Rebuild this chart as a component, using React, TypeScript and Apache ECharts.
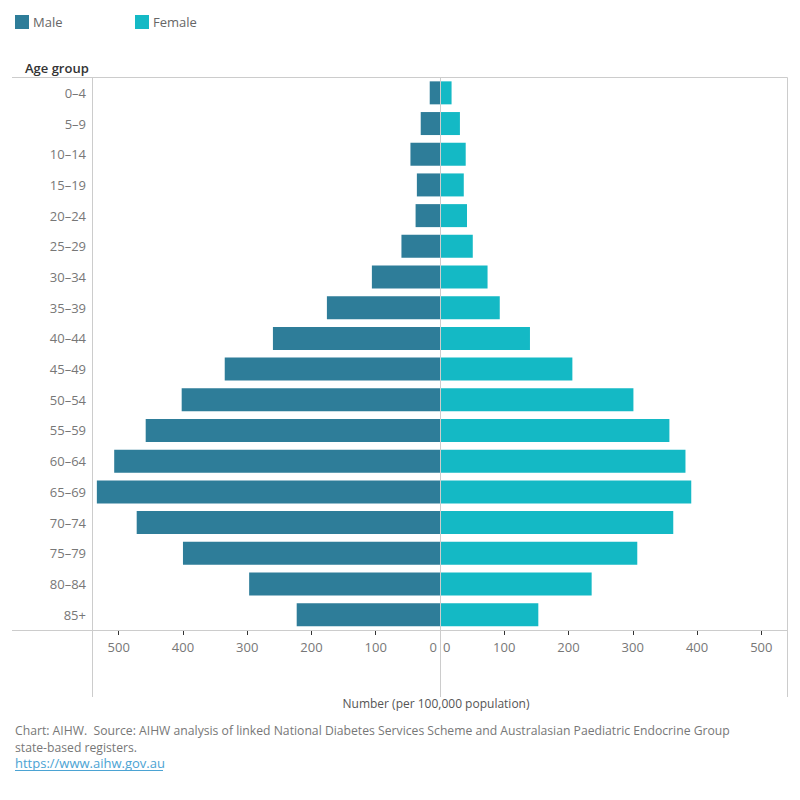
import React, { useEffect, useRef } from "react";
import * as echarts from "echarts";

const ageGroups = ["0–4", "5–9", "10–14", "15–19", "20–24", "25–29", "30–34", "35–39", "40–44", "45–49", "50–54", "55–59", "60–64", "65–69", "70–74", "75–79", "80–84", "85+"];
const maleValues = [16, 30, 46, 36, 38, 60, 106, 176, 260, 335, 402, 458, 507, 534, 472, 400, 297, 223];
const femaleValues = [18, 31, 40, 37, 42, 51, 74, 93, 140, 206, 301, 357, 382, 391, 363, 307, 236, 153];
const tickValues = [0, 100, 200, 300, 400, 500];

const MALE = "#2e7d99";
const FEMALE = "#14b9c5";
const FONT = "Open Sans";
const LINE = "#cccccc";

export default function App() {
  const ref = useRef<HTMLDivElement>(null);
  useEffect(() => {
    if (!ref.current) return;
    const chart = echarts.init(ref.current, null, { renderer: "svg" });
    const xAxisCommon = (inverse: boolean, gridIndex: number) => ({
      type: "value",
      gridIndex,
      min: 0,
      max: 540,
      interval: 100,
      inverse,
      axisLine: { show: true, lineStyle: { color: LINE, width: 1 } },
      axisTick: { show: true, customValues: tickValues.slice(1), length: 5, lineStyle: { color: "#333" } },
      axisLabel: {
        customValues: tickValues,
        color: "#777",
        fontSize: 13,
        fontFamily: FONT,
        margin: 10,
        alignMinLabel: inverse ? "right" : "left",
        formatter: (v: number) => (v === 0 ? "{z|0}" : String(v)),
        rich: {
          z: {
            color: "#777",
            fontSize: 13,
            fontFamily: FONT,
            padding: inverse ? [0, 3, 0, 0] : [0, 0, 0, 3],
          },
        },
      },
      splitLine: { show: false },
    });
    const yAxisCommon = (gridIndex: number, showLabels: boolean) => ({
      type: "category",
      gridIndex,
      data: ageGroups,
      inverse: true,
      axisLine: { show: false },
      axisTick: { show: false },
      axisLabel: { show: showLabels, color: "#777", fontSize: 13, fontFamily: FONT, margin: 7 },
      splitLine: { show: false },
    });
    const legendCommon = (name: string, left: number) => ({
      data: [name],
      left,
      top: 15,
      itemWidth: 14,
      itemHeight: 14,
      itemGap: 0,
      icon: "rect",
      textStyle: { color: "#666", fontSize: 13, fontFamily: FONT, padding: [0, 0, 0, -1] },
      padding: 0,
      selectedMode: false,
    });
    chart.setOption({
      animation: false,
      backgroundColor: "#fff",
      textStyle: { fontFamily: FONT },
      legend: [legendCommon("Male", 15), legendCommon("Female", 135)],
      grid: [
        { left: 93, width: 347, top: 77.5, height: 552.5, containLabel: false },
        { left: 440, width: 347, top: 77.5, height: 552.5, containLabel: false },
      ],
      xAxis: [xAxisCommon(true, 0), xAxisCommon(false, 1)],
      yAxis: [yAxisCommon(0, true), yAxisCommon(1, false)],
      series: [
        {
          name: "Male",
          type: "bar",
          xAxisIndex: 0,
          yAxisIndex: 0,
          data: maleValues,
          barWidth: 23,
          itemStyle: { color: MALE },
        },
        {
          name: "Female",
          type: "bar",
          xAxisIndex: 1,
          yAxisIndex: 1,
          data: femaleValues,
          barWidth: 23,
          itemStyle: { color: FEMALE },
        },
      ],
      graphic: [
        { type: "line", z: 100, shape: { x1: 12, y1: 77.5, x2: 787.5, y2: 77.5 }, style: { stroke: LINE, lineWidth: 1 } },
        { type: "line", z: 100, shape: { x1: 12, y1: 630.5, x2: 787.5, y2: 630.5 }, style: { stroke: LINE, lineWidth: 1 } },
        { type: "line", z: 100, shape: { x1: 92.5, y1: 77.5, x2: 92.5, y2: 697 }, style: { stroke: LINE, lineWidth: 1 } },
        { type: "line", z: 100, shape: { x1: 440.5, y1: 77.5, x2: 440.5, y2: 697 }, style: { stroke: LINE, lineWidth: 1 } },
        { type: "line", z: 100, shape: { x1: 787.5, y1: 77.5, x2: 787.5, y2: 697 }, style: { stroke: LINE, lineWidth: 1 } },
        { type: "text", left: 25, top: 61, style: { text: "Age group", fill: "#333", font: `600 13px "${FONT}"` } },
        { type: "text", x: 436, y: 703, style: { text: "Number (per 100,000 population)", fill: "#555", font: `12px "${FONT}"`, textAlign: "center", textVerticalAlign: "middle" } },
        { type: "text", x: 15, y: 730, style: { text: "Chart: AIHW.  Source: AIHW analysis of linked National Diabetes Services Scheme and Australasian Paediatric Endocrine Group", fill: "#777", font: `12.2px "${FONT}"`, textVerticalAlign: "middle" } },
        { type: "text", x: 15, y: 747, style: { text: "state-based registers.", fill: "#777", font: `12.2px "${FONT}"`, textVerticalAlign: "middle" } },
        { type: "text", x: 15, y: 763, style: { text: "https://www.aihw.gov.au", fill: "#4ba3d3", font: `13px "${FONT}"`, textVerticalAlign: "middle" } },
        { type: "line", shape: { x1: 15, y1: 770.5, x2: 163, y2: 770.5 }, style: { stroke: "#4ba3d3", lineWidth: 1 } },
      ],
    });
    return () => chart.dispose();
  }, []);
  return <div ref={ref} style={{ position: "fixed", left: 0, top: 0, width: 800, height: 800 }} />;
}
